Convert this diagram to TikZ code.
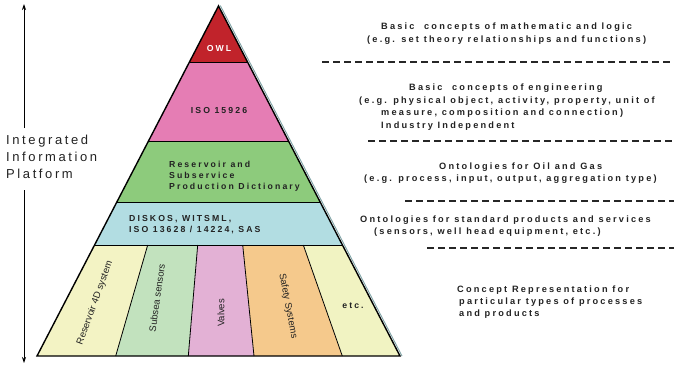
\documentclass[tikz,border=0pt]{standalone}
\usepackage{fontspec}
\setmainfont{Liberation Sans}
\newfontfamily\spc[LetterSpace=24]{Liberation Sans}
\newfontfamily\spcr[LetterSpace=24]{Liberation Sans}
\newfontfamily\spcl[LetterSpace=20]{Liberation Sans}
\usetikzlibrary{arrows.meta}
\definecolor{owlc}{HTML}{C1232B}
\definecolor{isoc}{HTML}{E57DB4}
\definecolor{grnc}{HTML}{8DCB7C}
\definecolor{bluc}{HTML}{B2DDE2}
\definecolor{colA}{HTML}{F3F3C4}
\definecolor{colB}{HTML}{C2E2BE}
\definecolor{colC}{HTML}{E3B1D5}
\definecolor{colD}{HTML}{F5C98C}
\definecolor{colE}{HTML}{F1F3C2}
\definecolor{edgec}{HTML}{7FA3A6}
\definecolor{txt}{HTML}{222222}
\begin{document}
\begin{tikzpicture}[x=1pt,y=-1pt,
  lbl/.style={font=\spc\bfseries\fontsize{8.7}{11}\selectfont, text=txt, inner sep=0pt},
  rtxt/.style={font=\spcr\bfseries\fontsize{9.2}{11}\selectfont, text=txt, inner sep=0pt, anchor=west},
  coltxt/.style={font=\fontsize{9.5}{11}\selectfont, text=txt, inner sep=0pt},
  sep/.style={line width=2.2pt, dash pattern=on 7pt off 4pt, color=black!85},
  divl/.style={line width=0.8pt, black},
  arr/.style={line width=0.8pt, -{Stealth[length=6pt,width=4pt]}}]
\useasboundingbox (0,0) rectangle (674,367);
% layers
\fill[owlc] (218.5,6) -- (247.5,62) -- (189.5,62) -- cycle;
\fill[isoc] (189.5,62) -- (247.5,62) -- (288.5,141) -- (148.5,141) -- cycle;
\fill[grnc] (148.5,141) -- (288.5,141) -- (320.1,202) -- (116.9,202) -- cycle;
\fill[bluc] (116.9,202) -- (320.1,202) -- (342.4,245) -- (94.6,245) -- cycle;
\fill[colA] (94.6,245) -- (147.7,245) -- (115.7,356) -- (37,356) -- cycle;
\fill[colB] (147.7,245) -- (197.7,245) -- (188.3,356) -- (115.7,356) -- cycle;
\fill[colC] (197.7,245) -- (242.7,245) -- (254,356) -- (188.3,356) -- cycle;
\fill[colD] (242.7,245) -- (303.3,245) -- (342.3,356) -- (254,356) -- cycle;
\fill[colE] (303.3,245) -- (342.4,245) -- (400,356) -- (342.3,356) -- cycle;
% boundaries
\draw[divl] (189.5,62) -- (247.5,62);
\draw[divl] (148.5,141) -- (288.5,141);
\draw[divl] (116.9,202) -- (320.1,202);
\draw[divl] (94.6,245) -- (342.4,245);
\draw[divl] (147.7,245) -- (115.7,356);
\draw[divl] (197.7,245) -- (188.3,356);
\draw[divl] (242.7,245) -- (254,356);
\draw[divl] (303.3,245) -- (342.3,356);
\draw[edgec, line width=0.9pt] (220.3,5.5) -- (402,356);
\draw[black, line width=1.4pt, line join=miter] (37,356) -- (218.5,6) -- (400,356) -- cycle;
% pyramid labels
\node[lbl, text=white] (owl) at (219,49) {OWL};
\node[lbl] (iso) at (219,111) {ISO 15926};
\node[lbl, anchor=west, align=left] (rspd) at (169,176) {Reservoir and\\Subservice\\Production Dictionary};
\node[lbl, anchor=west, align=left] (disk) at (129,225) {DISKOS, WITSML,\\ISO 13628 / 14224, SAS};
\node[coltxt, rotate=70] (r4d) at (95,303) {Reservoir 4D system};
\node[coltxt, rotate=82] (subs) at (157,298) {Subsea sensors};
\node[coltxt, rotate=90] (valv) at (221,313) {Valves};
\node[coltxt, rotate=-79] (safe) at (288,306) {Safety Systems};
\node[lbl] (etc) at (353,306) {etc.};
% left axis
\node[font=\spcl\fontsize{13}{17}\selectfont, text=txt, align=left, anchor=west, inner sep=0pt] (iip) at (6,157) {Integrated\\Information\\Platform};
\coordinate (atop) at (24,4);
\coordinate (abot) at (24,363);
\coordinate (a1) at (24,128);
\coordinate (a2) at (24,190);
\draw[arr] (a1) -- (atop);
\draw[arr] (a2) -- (abot);
% separators
\coordinate (d1s) at (322,62);  \coordinate (d1e) at (674,62);
\coordinate (d2s) at (368,141); \coordinate (d2e) at (674,141);
\coordinate (d3s) at (405,201); \coordinate (d3e) at (674,201);
\coordinate (d4s) at (427,248); \coordinate (d4e) at (674,248);
\draw[sep] (d1s) -- (d1e);
\draw[sep] (d2s) -- (d2e);
\draw[sep] (d3s) -- (d3e);
\draw[sep] (d4s) -- (d4e);
% right descriptions
\node[rtxt] (t1a) at (381,27) {Basic\ \ concepts of mathematic and logic};
\node[rtxt] (t1b) at (367,40) {(e.g. set theory relationships and functions)};
\node[rtxt] (t2a) at (409,88) {Basic\ \ concepts of engineering};
\node[rtxt] (t2b) at (359,101) {(e.g. physical object, activity, property, unit of};
\node[rtxt] (t2c) at (381,113) {measure, composition and connection)};
\node[rtxt] (t2d) at (381,126) {Industry Independent};
\node[rtxt] (t3a) at (439,167) {Ontologies for Oil and Gas};
\node[rtxt] (t3b) at (364,179) {(e.g. process, input, output, aggregation type)};
\node[rtxt] (t4a) at (360,220) {Ontologies for standard products and services};
\node[rtxt] (t4b) at (374,232) {(sensors, well head equipment, etc.)};
\node[rtxt] (t5a) at (457,290) {Concept Representation for};
\node[rtxt] (t5b) at (459,302) {particular types of processes};
\node[rtxt] (t5c) at (459,314) {and products};
\end{tikzpicture}
\end{document}
